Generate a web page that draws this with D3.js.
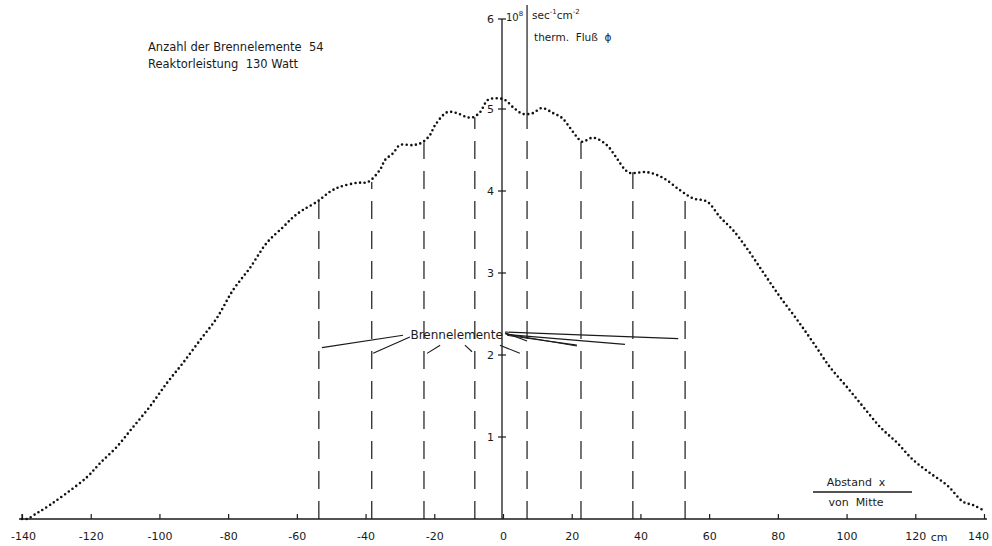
<!DOCTYPE html>
<html>
<head>
<meta charset="utf-8">
<script src="https://cdn.jsdelivr.net/npm/d3@7"></script>
<style>
  html, body { margin: 0; padding: 0; background: #fff; }
  svg { display: block; }
  text { font-family: "DejaVu Sans", "Liberation Sans", sans-serif; fill: #1a1a1a; }
</style>
</head>
<body>
<svg id="chart" width="992" height="546"></svg>
<script>
// ---- data ----
const positionsCm = [-140,-138.6,-135.7,-131.9,-126.9,-121.1,-117.3,-112.4,-107.7,-102.8,-97.8,-93.2,-88.2,-83.3,-78.6,-73.7,-68.7,-64,-61.1,-58.2,-54.1,-50.4,-47.5,-42.5,-39.3,-35.8,-34.3,-32,-30,-26.2,-23.6,-21.3,-19.8,-16.3,-13.4,-10.5,-8.7,-6.7,-4.4,-1.7,0.6,3.2,5.8,8.7,11.3,14.6,17.2,19.5,21.5,23,26.2,30.2,33.1,35.5,37,41.9,46.6,51.5,55.3,59.4,63.2,67,71,75.7,80.6,85.6,90.3,95.2,100.1,104.8,109.8,114.7,119.4,124.3,129.3,133.9,136.8,139.7];
const fluxValues = [0.00,0.00,0.07,0.17,0.32,0.51,0.68,0.88,1.12,1.37,1.66,1.90,2.18,2.45,2.79,3.06,3.37,3.56,3.68,3.77,3.87,3.99,4.05,4.10,4.11,4.26,4.38,4.46,4.56,4.56,4.59,4.68,4.80,4.96,4.95,4.90,4.90,4.96,5.10,5.12,5.10,5.01,4.94,4.95,5.01,4.95,4.89,4.77,4.66,4.60,4.65,4.56,4.40,4.26,4.22,4.23,4.16,4.01,3.91,3.87,3.68,3.52,3.30,3.01,2.71,2.43,2.15,1.85,1.61,1.37,1.12,0.93,0.72,0.56,0.41,0.21,0.17,0.11];

const elementPositions = [-53.6,-38.2,-23,-8.2,7,22.7,37.8,53];
const elementTops      = [3.89,4.11,4.59,4.90,4.95,4.60,4.23,3.99];

const xTickValues = [-140,-120,-100,-80,-60,-40,-20,0,20,40,60,80,100,120,140];
const yTickValues = [1,2,3,4,5,6];

// leader lines of the "Brennelemente" label: [fromCm, fromVal, toCm, toVal]
const leaderLines = [
  [-29.1,2.24,-52.7,2.09],
  [-27.1,2.22,-37.8,2.02],
  [-18.3,2.12,-22.1,2.02],
  [-11.1,2.12,-9.0,2.04],
  [-0.9,2.12,4.9,2.02],
  [0.6,2.27,7.0,2.17],
  [0.6,2.26,21.5,2.11],
  [1.0,2.25,35.5,2.13],
  [0.6,2.28,51.0,2.20],
  [1.2,2.24,21.5,2.12]
];

const titleLines = ["Anzahl der Brennelemente  54", "Reaktorleistung  130 Watt"];

// ---- drawing ----
const svg = d3.select("#chart");
const x = d3.scaleLinear().domain([-140, 140]).range([22, 984]);
// hand-drawn ordinate: tick spacing slightly wider between 5 and 6
const y = d3.scaleLinear().domain([0, 5, 6]).range([519, 109, 19]);
const ink = "#1a1a1a";

// x axis
const xAxis = d3.axisBottom(x)
  .tickValues(xTickValues)
  .tickSizeInner(-5)
  .tickSizeOuter(0)
  .tickPadding(13)
  .tickFormat(d => String(d));
const gx = svg.append("g").attr("transform", `translate(0,${y(0)})`).call(xAxis);
gx.select(".domain").attr("stroke", ink).attr("stroke-width", 1.3)
  .attr("d", `M${x(-140)-3},0H${x(140)+3}`);
gx.selectAll(".tick line").attr("stroke", ink).attr("stroke-width", 1.2);
gx.selectAll(".tick text").attr("font-size", 11).style("fill", ink)
  .attr("dx", d => d === 140 ? -6 : (d === -140 ? 1 : 0));
svg.append("text").attr("x", x(124.5)).attr("y", y(0) + 22)
  .attr("font-size", 11).text("cm");

// y axis (vertical line through x = 0)
svg.append("line")
  .attr("x1", x(0) - 1).attr("x2", x(0) - 1)
  .attr("y1", y(0)).attr("y2", y(6))
  .attr("stroke", ink).attr("stroke-width", 1.3);
const yt = svg.append("g").selectAll("g").data(yTickValues).join("g")
  .attr("transform", d => `translate(${x(0) - 1},${y(d)})`);
yt.append("line").attr("x1", -4).attr("x2", 4).attr("stroke", ink).attr("stroke-width", 1.2);
yt.append("text").attr("x", -8).attr("dy", "0.36em").attr("text-anchor", "end")
  .attr("font-size", 11).text(d => d);
const exp = svg.append("text").attr("x", x(0) + 3).attr("y", y(6) + 2).attr("font-size", 10);
exp.append("tspan").text("10");
exp.append("tspan").attr("font-size", 7).attr("dy", -5).text("8");

// unit separator line (continuation of fuel element line at +7 cm)
svg.append("line")
  .attr("x1", x(elementPositions[4])).attr("x2", x(elementPositions[4]))
  .attr("y1", 5).attr("y2", y(elementTops[4]))
  .attr("stroke", ink).attr("stroke-width", 1.2);
const unit = svg.append("text").attr("x", x(elementPositions[4]) + 5).attr("y", 19).attr("font-size", 10.5);
unit.append("tspan").text("sec");
unit.append("tspan").attr("font-size", 7).attr("dy", -5).text("-1");
unit.append("tspan").attr("dy", 5).text("cm");
unit.append("tspan").attr("font-size", 7).attr("dy", -5).text("-2");
svg.append("text").attr("x", x(elementPositions[4]) + 7).attr("y", 41)
  .attr("font-size", 10.5).style("fill", ink).attr("xml:space", "preserve").text("therm.  Fluß  ϕ");

// fuel element dashed lines
svg.append("g").selectAll("line").data(elementPositions).join("line")
  .attr("x1", d => x(d)).attr("x2", d => x(d))
  .attr("y1", y(0)).attr("y2", (d, i) => y(elementTops[i]))
  .attr("stroke", ink).attr("stroke-width", 1.2)
  .attr("stroke-dasharray", "18,12");

// edge tick at -140
svg.append("line").attr("x1", x(-140)).attr("x2", x(-140)).attr("y1", y(0)).attr("y2", y(0) - 5)
  .attr("stroke", ink).attr("stroke-width", 1.2);

// flux curve (dotted)
const line = d3.line()
  .x((d, i) => x(positionsCm[i]))
  .y(d => y(d))
  .curve(d3.curveCatmullRom.alpha(0.5));
svg.append("path").datum(fluxValues)
  .attr("d", line)
  .attr("fill", "none")
  .attr("stroke", "#111")
  .attr("stroke-width", 2.6)
  .attr("stroke-linecap", "round")
  .attr("stroke-dasharray", "0,4.6");

// Brennelemente label and leader lines
svg.append("text").attr("x", x(-13.5)).attr("y", y(2.24) + 4)
  .attr("text-anchor", "middle").attr("font-size", 12).text("Brennelemente");
svg.append("g").selectAll("line").data(leaderLines).join("line")
  .attr("x1", d => x(d[0])).attr("y1", d => y(d[1]))
  .attr("x2", d => x(d[2])).attr("y2", d => y(d[3]))
  .attr("stroke", ink).attr("stroke-width", 1.1);

// title block
svg.append("g").selectAll("text").data(titleLines).join("text")
  .attr("x", 148).attr("y", (d, i) => 51 + i * 17)
  .attr("font-size", 11.5).attr("xml:space", "preserve").text(d => d);

// axis caption
svg.append("text").attr("x", 856).attr("y", 486).attr("font-size", 11)
  .attr("text-anchor", "middle").attr("xml:space", "preserve").text("Abstand  x");
svg.append("line").attr("x1", 813).attr("x2", 912).attr("y1", 492).attr("y2", 492)
  .attr("stroke", ink).attr("stroke-width", 1.3);
svg.append("text").attr("x", 856).attr("y", 506).attr("font-size", 11)
  .attr("text-anchor", "middle").attr("xml:space", "preserve").text("von  Mitte");
</script>
</body>
</html>
